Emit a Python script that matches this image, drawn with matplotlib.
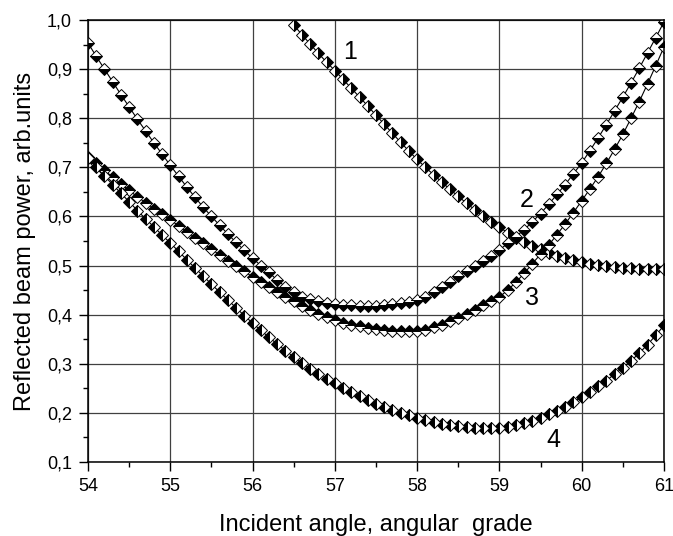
import numpy as np
import matplotlib
matplotlib.use('Agg')
import matplotlib.pyplot as plt
from matplotlib.ticker import MultipleLocator

plt.rcParams['font.family'] = ['Liberation Sans', 'DejaVu Sans']

# incident angle grid (deg), step 0.1
angle_full = np.round(np.arange(54.0, 61.05, 0.1), 2)
angle_c1 = np.round(np.arange(56.5, 61.05, 0.1), 2)

# curve 1 (56.5 .. 61.0)
power_1 = [0.990, 0.970, 0.951, 0.932, 0.914, 0.897, 0.879, 0.861, 0.843, 0.825,
           0.806, 0.788, 0.769, 0.751, 0.733, 0.716, 0.700, 0.685, 0.670, 0.655,
           0.641, 0.627, 0.614, 0.601, 0.589, 0.578, 0.567, 0.557, 0.548, 0.540,
           0.533, 0.526, 0.520, 0.515, 0.511, 0.507, 0.504, 0.501, 0.499, 0.497,
           0.496, 0.495, 0.494, 0.494, 0.494, 0.494]

# curve 2 (54.0 .. 61.0)
power_2 = [0.953, 0.926, 0.900, 0.874, 0.848, 0.823, 0.798, 0.774, 0.750, 0.727,
           0.704, 0.682, 0.660, 0.639, 0.619, 0.600, 0.582, 0.564, 0.547, 0.531,
           0.515, 0.500, 0.486, 0.470, 0.457, 0.446, 0.437, 0.431, 0.427, 0.424,
           0.422, 0.420, 0.419, 0.418, 0.418, 0.418, 0.419, 0.421, 0.423, 0.426,
           0.430, 0.437, 0.447, 0.457, 0.467, 0.478, 0.488, 0.499, 0.509, 0.520,
           0.532, 0.545, 0.559, 0.573, 0.589, 0.606, 0.625, 0.645, 0.665, 0.687,
           0.709, 0.734, 0.760, 0.787, 0.815, 0.843, 0.872, 0.902, 0.933, 0.964,
           0.996]

# curve 3
power_3 = [0.722, 0.708, 0.694, 0.680, 0.666, 0.653, 0.640, 0.628, 0.616, 0.604,
           0.593, 0.581, 0.569, 0.557, 0.545, 0.533, 0.522, 0.510, 0.499, 0.488,
           0.477, 0.467, 0.456, 0.446, 0.436, 0.427, 0.418, 0.409, 0.401, 0.395,
           0.389, 0.384, 0.380, 0.376, 0.373, 0.371, 0.369, 0.367, 0.366, 0.366,
           0.367, 0.369, 0.374, 0.380, 0.387, 0.394, 0.402, 0.410, 0.419, 0.427,
           0.436, 0.450, 0.466, 0.484, 0.504, 0.523, 0.542, 0.563, 0.585, 0.608,
           0.632, 0.656, 0.681, 0.708, 0.737, 0.767, 0.800, 0.834, 0.870, 0.907,
           0.945]

# curve 4
power_4 = [0.718, 0.700, 0.682, 0.665, 0.647, 0.630, 0.612, 0.595, 0.579, 0.562,
           0.546, 0.529, 0.512, 0.495, 0.479, 0.462, 0.446, 0.430, 0.414, 0.398,
           0.383, 0.368, 0.354, 0.340, 0.327, 0.314, 0.302, 0.290, 0.279, 0.269,
           0.260, 0.251, 0.242, 0.234, 0.226, 0.219, 0.212, 0.206, 0.200, 0.195,
           0.190, 0.186, 0.182, 0.178, 0.175, 0.173, 0.171, 0.170, 0.169, 0.169,
           0.170, 0.172, 0.175, 0.179, 0.184, 0.190, 0.197, 0.204, 0.213, 0.222,
           0.232, 0.243, 0.254, 0.266, 0.279, 0.292, 0.306, 0.322, 0.339, 0.358,
           0.378]

curve_labels = ['1', '2', '3', '4']
label_pos = [(57.18, 0.935), (59.33, 0.633), (59.39, 0.434), (59.65, 0.145)]

x_ticks = [54, 55, 56, 57, 58, 59, 60, 61]
y_ticks = [0.1, 0.2, 0.3, 0.4, 0.5, 0.6, 0.7, 0.8, 0.9, 1.0]
y_ticklabels = ['0,1', '0,2', '0,3', '0,4', '0,5', '0,6', '0,7', '0,8', '0,9', '1,0']

fig = plt.figure(figsize=(6.73, 5.36), dpi=100)
ax = fig.add_axes([0.1308, 0.138, 0.8558, 0.8247])

series = [(angle_c1, power_1, 'right'),
          (angle_full, power_2, 'bottom'),
          (angle_full, power_3, 'top'),
          (angle_full, power_4, 'left')]
for xs, ys, fs in series:
    ax.plot(xs, ys, color='black', lw=0.8, marker='D', markersize=6.2,
            fillstyle=fs, markerfacecolor='black', markerfacecoloralt='white',
            markeredgecolor='black', markeredgewidth=0.7)

for txt, (lx, ly) in zip(curve_labels, label_pos):
    ax.text(lx, ly, txt, fontsize=18, ha='center', va='center')

ax.set_xlim(54, 61)
ax.set_ylim(0.1, 1.0)
ax.set_xticks(x_ticks)
ax.set_xticklabels([str(t) for t in x_ticks])
ax.set_yticks(y_ticks)
ax.set_yticklabels(y_ticklabels)
ax.xaxis.set_minor_locator(MultipleLocator(0.5))
ax.yaxis.set_minor_locator(MultipleLocator(0.05))
ax.tick_params(which='major', direction='out', length=6.5, width=1, labelsize=13, pad=5)
ax.tick_params(which='minor', direction='out', length=3.6, width=1)
ax.grid(True, which='major', color='0.25', lw=0.9)
ax.set_axisbelow(True)
for sp in ax.spines.values():
    sp.set_linewidth(1.1)

narrow = ['Liberation Sans Narrow', 'Liberation Sans']
ax.set_xlabel('Incident angle, angular  grade', fontsize=17, family=narrow, labelpad=14)
ax.set_ylabel('Reflected beam power, arb.units', fontsize=17, family=narrow, labelpad=8)

fig.savefig('out.png', dpi=100)
